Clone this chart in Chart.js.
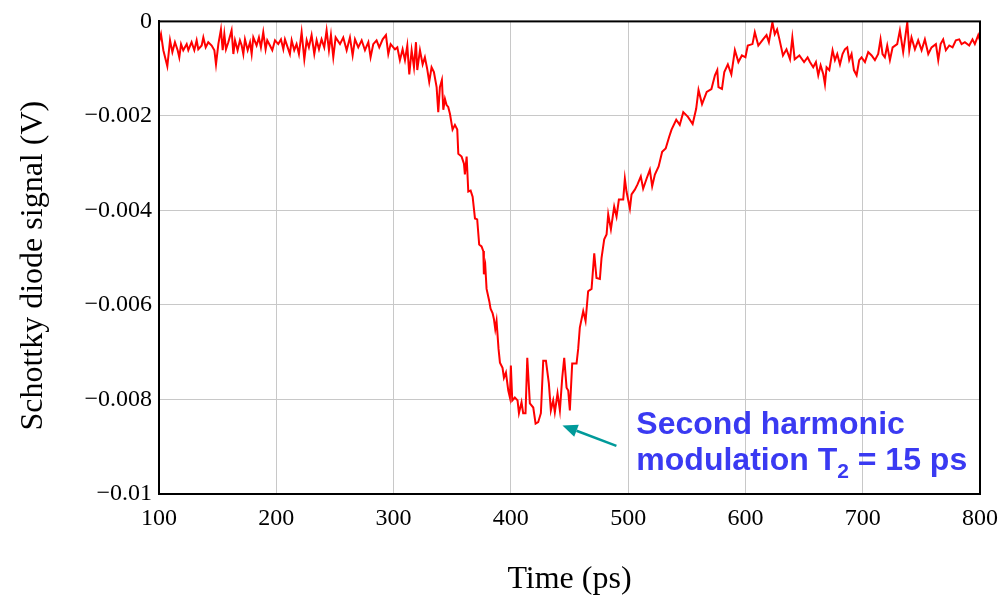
<!DOCTYPE html>
<html>
<head>
<meta charset="utf-8">
<title>Schottky diode signal</title>
<script src="https://cdn.jsdelivr.net/npm/chart.js@4.4.1/dist/chart.umd.min.js"></script>
<style>
  html, body { margin: 0; padding: 0; background: #fff; }
  #wrap { width: 1005px; height: 599px; }
</style>
</head>
<body>
<div id="wrap"><canvas id="diodeChart" width="1005" height="599"></canvas></div>
<script>
// sample times (ps)
const timePs = [
  // flat part before the dip
  100, 101.7, 103.7, 107.1, 109.4, 111.4, 113.6, 115.9, 117.3, 118.8,
  120.7, 123.6, 125, 127.8, 130.1, 132.1, 133.5, 136.4, 137.8, 139.8,
  142, 144.9, 147.2, 148.6, 150.6, 152.8, 154.3, 155.7, 157.1, 159.1,
  161.9, 163.4, 164.8, 167, 169, 170.5, 171.9, 173.3, 175.6, 177.6,
  179, 180.4, 183.2, 185.2, 186.9, 188.9, 190.9, 192.3, 194.6, 196.6,
  198.9, 201.7, 204, 206, 207.4, 209.7, 211.6, 213.1, 215.3, 217.3,
  219.3, 221.6, 223.9, 225.9, 227.8, 230.1, 232.4, 234.4, 236.4, 238.6,
  240.9, 242.9, 244.9, 246.6, 248.6, 250.6,
  // falling edge
  254.3, 257.1, 260, 262.8, 265.1, 267.1, 269.9, 272.8, 275.6, 278.5,
  280.4, 282.7, 285.5, 287.8, 290.7, 293.5, 295.5, 297.5, 301.2, 303.2,
  305.4, 307.7, 309.7, 311.7, 313.4, 315.4, 317.4, 319.1, 320.2, 322.5,
  324.8, 326.7, 328.7, 330.4, 332.4, 334.4, 336.7, 338.1, 339.5, 341.2,
  342.4, 343.8, 345.2, 346.6, 348.1, 350.3, 352.3, 354.3, 355.2, 358,
  360, 360.8, 362.3, 363.7, 365.7, 367.4, 369.4, 371.3, 373, 375,
  376.5, 377, 378.2, 379.3, 381.6, 382.7, 384.4, 385.5, 386.7, 387.8,
  389.5, 390.7, 392.9, 394.1, 395.8, 397.8, 399.2,
  // bottom with the modulation
  400, 401.2, 403.4, 405.7, 406.9, 409.1, 410.5, 412.5, 414, 416.2,
  419.1, 421.1, 423.3, 425.6, 427.6, 429.9, 432.4, 434.1, 436.1, 437.5,
  439.8, 441.8, 443.8, 445.5, 447.5, 448.9, 450.3, 452.3, 456, 457.4,
  458.8, 461.7, 463.7, 465.9, 468.8, 471.1, 473, 475.9, 477.3, 479.6,
  481.6, 483, 485.3, 488.1, 490.1, 492.1, 495.8, 497.2, 498.6, 501.5,
  502.9, 505.7, 508, 510.8, 512.8, 515.7, 518.5, 520.5, 522.8,
  // rising edge
  526, 529, 532, 535, 537, 541, 544, 547, 551, 555,
  558, 560, 563, 567, 571, 574, 576, 577, 580, 582,
  585, 588, 591, 594, 597, 600, 602, 606, 608, 611,
  615, 618, 620, 623, 625, 627, 629, 632, 635, 638,
  640, 642, 646, 650, 653,
  // tail
  655, 657.8, 660.1, 662.1, 664.1, 666.4, 667.8, 669.2, 671.5, 674.3,
  676.3, 678.3, 680.6, 682.8, 684.8, 686.8, 688.5, 690.5, 692.5, 694.8,
  697, 699, 701.9, 704.7, 707.6, 710.4, 713.2, 715.2, 716.9, 718.9,
  720.9, 723.2, 725.5, 729.4, 731.7, 734.5, 738, 739.7, 741.6, 744.5,
  747.3, 750.2, 753, 755.9, 758.7, 762.4, 764.4, 766.4, 768.6, 770.9,
  773.8, 776.6, 779.4, 782.3, 784.3, 787.1, 790.8, 793.6, 795.6, 798.5,
  799.9
];

// diode signal (V), same order as timePs
const signalV = [
  -0.00044, -0.00027, -0.00061, -0.00095, -0.00040, -0.00065, -0.00044, -0.00061, -0.00076, -0.00048,
  -0.00061, -0.00048, -0.00061, -0.00044, -0.00061, -0.00040, -0.00059, -0.00051, -0.00034, -0.00055,
  -0.00044, -0.00051, -0.00061, -0.00091, -0.00048, -0.00017, -0.00061, -0.00027, -0.00059, -0.00044,
  -0.00019, -0.00069, -0.00040, -0.00061, -0.00040, -0.00051, -0.00069, -0.00038, -0.00061, -0.00044,
  -0.00069, -0.00034, -0.00051, -0.00034, -0.00055, -0.00023, -0.00059, -0.00040, -0.00051, -0.00061,
  -0.00040, -0.00048, -0.00038, -0.00059, -0.00038, -0.00055, -0.00069, -0.00040, -0.00061, -0.00048,
  -0.00069, -0.00023, -0.00080, -0.00040, -0.00055, -0.00029, -0.00069, -0.00040, -0.00059, -0.00038,
  -0.00055, -0.00019, -0.00061, -0.00029, -0.00076, -0.00034,

  -0.00048, -0.00034, -0.00061, -0.00034, -0.00072, -0.00038, -0.00055, -0.00040, -0.00061, -0.00044,
  -0.00076, -0.00048, -0.00040, -0.00055, -0.00038, -0.00029, -0.00069, -0.00048, -0.00059, -0.00055,
  -0.00082, -0.00059, -0.00082, -0.00051, -0.00112, -0.00061, -0.00097, -0.00044, -0.00103, -0.00061,
  -0.00091, -0.00076, -0.00101, -0.00128, -0.00097, -0.00107, -0.00139, -0.00192, -0.00139, -0.00124,
  -0.00187, -0.00164, -0.00177, -0.00181, -0.00196, -0.00229, -0.00219, -0.00229, -0.00280, -0.00286,
  -0.00301, -0.00324, -0.00286, -0.00360, -0.00358, -0.00371, -0.00417, -0.00419, -0.00472, -0.00476,
  -0.00486, -0.00535, -0.00518, -0.00566, -0.00592, -0.00608, -0.00617, -0.00629, -0.00651, -0.00634,
  -0.00693, -0.00722, -0.00733, -0.00754, -0.00743, -0.00781, -0.00796,

  -0.00728, -0.00802, -0.00796, -0.00802, -0.00829, -0.00806, -0.00829, -0.00829, -0.00712, -0.00808,
  -0.00817, -0.00851, -0.00848, -0.00829, -0.00718, -0.00718, -0.00766, -0.00823, -0.00802, -0.00827,
  -0.00787, -0.00823, -0.00754, -0.00712, -0.00775, -0.00781, -0.00823, -0.00724, -0.00724, -0.00693,
  -0.00648, -0.00613, -0.00634, -0.00571, -0.00566, -0.00491, -0.00543, -0.00545, -0.00501, -0.00461,
  -0.00451, -0.00408, -0.00440, -0.00392, -0.00413, -0.00377, -0.00377, -0.00333, -0.00360, -0.00396,
  -0.00366, -0.00356, -0.00345, -0.00328, -0.00354, -0.00333, -0.00314, -0.00349, -0.00324,

  -0.00307, -0.00276, -0.00269, -0.00244, -0.00229, -0.00208, -0.00219, -0.00192, -0.00202, -0.00217,
  -0.00185, -0.00145, -0.00175, -0.00149, -0.00143, -0.00114, -0.00103, -0.00139, -0.00143, -0.00107,
  -0.00091, -0.00112, -0.00061, -0.00086, -0.00072, -0.00076, -0.00051, -0.00048, -0.00023, -0.00051,
  -0.00038, -0.00029, -0.00044, -0.00002, -0.00027, -0.00017, -0.00038, -0.00072, -0.00059, -0.00080,
  -0.00034, -0.00080, -0.00072, -0.00086, -0.00076,

  -0.00086, -0.00097, -0.00086, -0.00114, -0.00093, -0.00112, -0.00133, -0.00097, -0.00103, -0.00061,
  -0.00082, -0.00069, -0.00091, -0.00069, -0.00059, -0.00055, -0.00082, -0.00069, -0.00103, -0.00114,
  -0.00082, -0.00076, -0.00086, -0.00065, -0.00072, -0.00082, -0.00069, -0.00038, -0.00069, -0.00076,
  -0.00051, -0.00082, -0.00055, -0.00048, -0.00019, -0.00065, -0.00002, -0.00061, -0.00034, -0.00059,
  -0.00040, -0.00061, -0.00038, -0.00069, -0.00055, -0.00048, -0.00082, -0.00048, -0.00038, -0.00061,
  -0.00051, -0.00055, -0.00040, -0.00038, -0.00048, -0.00044, -0.00051, -0.00038, -0.00048, -0.00029,
  -0.00040
];

const xTicks = [100, 200, 300, 400, 500, 600, 700, 800];
const yTicks = [0, -0.002, -0.004, -0.006, -0.008, -0.01];
const xTitle = 'Time (ps)';
const yTitle = 'Schottky diode signal (V)';
const noteLine1 = 'Second harmonic';
const noteLine2 = ['modulation T', '2', ' = 15 ps'];

// annotation anchors in data units
const arrowTip = { t: 444, v: -0.00855 };
const arrowTail = { t: 490, v: -0.00898 };
const noteAnchor = { t: 507, v: -0.00874 };

if (timePs.length !== signalV.length) {
  console.warn('length mismatch', timePs.length, signalV.length);
}

const serif = '"Liberation Serif", "Times New Roman", Times, serif';

const framePlugin = {
  id: 'frameAndNote',
  afterDatasetsDraw(chart) {
    const { ctx, chartArea: a, scales: { x, y } } = chart;
    ctx.save();

    // plot frame
    ctx.strokeStyle = '#000';
    ctx.lineWidth = 2;
    ctx.strokeRect(a.left, a.top, a.right - a.left, a.bottom - a.top);

    // arrow pointing at the modulation
    const tx = x.getPixelForValue(arrowTip.t);
    const ty = y.getPixelForValue(arrowTip.v);
    const sx = x.getPixelForValue(arrowTail.t);
    const sy = y.getPixelForValue(arrowTail.v);
    const ang = Math.atan2(ty - sy, tx - sx);
    const headLen = 15, headHalf = 6.5;
    const bx = tx - headLen * Math.cos(ang);
    const by = ty - headLen * Math.sin(ang);
    ctx.strokeStyle = '#009a9a';
    ctx.fillStyle = '#009a9a';
    ctx.lineWidth = 2.5;
    ctx.beginPath();
    ctx.moveTo(sx, sy);
    ctx.lineTo(bx, by);
    ctx.stroke();
    ctx.beginPath();
    ctx.moveTo(tx, ty);
    ctx.lineTo(bx + headHalf * Math.sin(ang), by - headHalf * Math.cos(ang));
    ctx.lineTo(bx - headHalf * Math.sin(ang), by + headHalf * Math.cos(ang));
    ctx.closePath();
    ctx.fill();

    // annotation text
    const nx = x.getPixelForValue(noteAnchor.t);
    const ny = y.getPixelForValue(noteAnchor.v);
    const big = 'bold 32px "Liberation Sans", Arial, sans-serif';
    const small = 'bold 21px "Liberation Sans", Arial, sans-serif';
    ctx.fillStyle = '#3a3af2';
    ctx.textAlign = 'left';
    ctx.textBaseline = 'alphabetic';
    ctx.font = big;
    ctx.fillText(noteLine1, nx, ny);
    let cx = nx;
    const ny2 = ny + 36;
    ctx.fillText(noteLine2[0], cx, ny2);
    cx += ctx.measureText(noteLine2[0]).width;
    ctx.font = small;
    ctx.fillText(noteLine2[1], cx, ny2 + 8);
    cx += ctx.measureText(noteLine2[1]).width;
    ctx.font = big;
    ctx.fillText(noteLine2[2], cx, ny2);

    ctx.restore();
  }
};

const points = timePs.map((t, i) => ({ x: t, y: signalV[i] }));

const formatVolts = (v) => {
  if (Math.abs(v) < 1e-9) return '0';
  return '\u2212' + String(Number(Math.abs(v).toFixed(3)));
};

const diodeChart = new Chart(document.getElementById('diodeChart'), {
  type: 'line',
  data: {
    datasets: [{
      data: points,
      borderColor: '#ff0000',
      borderWidth: 2,
      pointRadius: 0,
      tension: 0,
      fill: false
    }]
  },
  options: {
    responsive: false,
    animation: false,
    devicePixelRatio: 1,
    layout: { padding: { top: 19, right: 25, left: 0, bottom: 0 } },
    plugins: {
      legend: { display: false },
      tooltip: { enabled: false }
    },
    scales: {
      x: {
        type: 'linear',
        min: xTicks[0],
        max: xTicks[xTicks.length - 1],
        afterBuildTicks: (s) => { s.ticks = xTicks.map(v => ({ value: v })); },
        ticks: {
          padding: 10,
          color: '#000',
          maxRotation: 0,
          font: { family: serif, size: 24 },
          callback: (v) => String(v)
        },
        grid: { color: '#c8c8c8', lineWidth: 1, drawTicks: false },
        border: { color: '#000', width: 2 },
        title: {
          display: true,
          text: xTitle,
          color: '#000',
          font: { family: serif, size: 32 },
          padding: { top: 0, bottom: 0 }
        },
        afterFit: (s) => {
          s.height = 105;
          // the layout padding already leaves room for the end labels
          s.paddingLeft = 0;
          s.paddingRight = 0;
        }
      },
      y: {
        type: 'linear',
        min: yTicks[yTicks.length - 1],
        max: yTicks[0],
        afterBuildTicks: (s) => { s.ticks = yTicks.slice().reverse().map(v => ({ value: v })); },
        ticks: {
          padding: 7,
          color: '#000',
          font: { family: serif, size: 24 },
          callback: formatVolts
        },
        grid: { color: '#c8c8c8', lineWidth: 1, drawTicks: false },
        border: { color: '#000', width: 2 },
        title: {
          display: true,
          // en space at the end nudges the rotated title down a little
          text: yTitle + '\u2002',
          color: '#000',
          font: { family: serif, size: 32 },
          padding: { top: 14, bottom: 0 }
        },
        afterFit: (s) => { s.width = 159; }
      }
    }
  },
  plugins: [framePlugin]
});
</script>
</body>
</html>
